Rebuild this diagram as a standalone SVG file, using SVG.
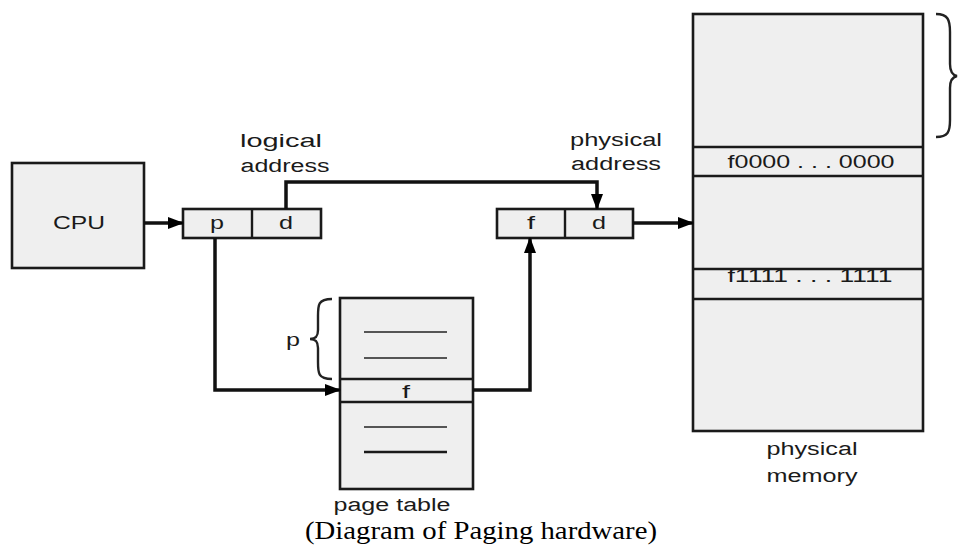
<svg xmlns="http://www.w3.org/2000/svg" width="964" height="557" viewBox="0 0 964 557">
<style>
.box{fill:#efefef;stroke:#1a1a1a;stroke-width:2.6}
.sep{stroke:#1a1a1a;stroke-width:2.4;fill:none}
.thin{stroke:#555;stroke-width:2.2;fill:none}
.wire{stroke:#111;stroke-width:3.5;fill:none}
.brace{stroke:#222;stroke-width:2.4;fill:none}
.t{font-family:"Liberation Sans",Arial,sans-serif;font-size:18px;fill:#1a1a1a}
.cap{font-family:"Liberation Serif","DejaVu Serif",serif;font-size:26px;fill:#000}
</style>
<defs>
<marker id="ah" viewBox="0 0 16 12" refX="15" refY="6" markerWidth="16" markerHeight="12" markerUnits="userSpaceOnUse" orient="auto">
<path d="M0,0 L16,6 L0,12 Z" fill="#000"/>
</marker>
</defs>
<rect width="964" height="557" fill="#fff"/>

<g id="cpu">
<rect class="box" x="12" y="163" width="132" height="105"/>
<text class="t" x="79" y="229" text-anchor="middle" textLength="52" lengthAdjust="spacingAndGlyphs">CPU</text>
</g>

<g id="logical-address">
<rect class="box" x="183" y="209" width="138" height="29"/>
<line class="sep" x1="252" y1="209" x2="252" y2="238"/>
<text class="t" x="217" y="229" text-anchor="middle" textLength="14" lengthAdjust="spacingAndGlyphs">p</text>
<text class="t" x="286" y="229" text-anchor="middle" textLength="14" lengthAdjust="spacingAndGlyphs">d</text>
<text class="t" x="281" y="147" text-anchor="middle" textLength="82" lengthAdjust="spacingAndGlyphs">logical</text>
<text class="t" x="285" y="172" text-anchor="middle" textLength="89" lengthAdjust="spacingAndGlyphs">address</text>
</g>

<g id="physical-address">
<rect class="box" x="497" y="209" width="136" height="29"/>
<line class="sep" x1="565" y1="209" x2="565" y2="238"/>
<text class="t" x="531" y="229" text-anchor="middle" textLength="8" lengthAdjust="spacingAndGlyphs">f</text>
<text class="t" x="599" y="229" text-anchor="middle" textLength="14" lengthAdjust="spacingAndGlyphs">d</text>
<text class="t" x="616" y="146" text-anchor="middle" textLength="92" lengthAdjust="spacingAndGlyphs">physical</text>
<text class="t" x="616" y="170" text-anchor="middle" textLength="90" lengthAdjust="spacingAndGlyphs">address</text>
</g>

<g id="page-table">
<rect class="box" x="340" y="298" width="133" height="191"/>
<line class="sep" x1="340" y1="379" x2="473" y2="379"/>
<line class="sep" x1="340" y1="402" x2="473" y2="402"/>
<line class="thin" x1="364" y1="332" x2="447" y2="332"/>
<line class="thin" x1="364" y1="358" x2="447" y2="358"/>
<line class="thin" x1="364" y1="427" x2="447" y2="427"/>
<line class="sep" x1="364" y1="452" x2="447" y2="452" stroke-width="2.8"/>
<text class="t" x="406" y="398" text-anchor="middle" textLength="8" lengthAdjust="spacingAndGlyphs">f</text>
<path class="brace" d="M332,299 C318,299 318,305 318,316 L318,330 C318,336 316,339 310,339 C316,339 318,342 318,348 L318,362 C318,373 318,379 332,379"/>
<text class="t" x="293" y="346" text-anchor="middle" textLength="14" lengthAdjust="spacingAndGlyphs">p</text>
<text class="t" x="392" y="511" text-anchor="middle" textLength="117" lengthAdjust="spacingAndGlyphs">page table</text>
</g>

<g id="physical-memory">
<rect class="box" x="693" y="14" width="230" height="417" stroke-width="3"/>
<line class="sep" x1="693" y1="147" x2="923" y2="147"/>
<line class="sep" x1="693" y1="176" x2="923" y2="176"/>
<line class="sep" x1="693" y1="269" x2="923" y2="269"/>
<line class="sep" x1="693" y1="299" x2="923" y2="299" stroke-width="2.8"/>
<text class="t" x="811" y="168" text-anchor="middle" textLength="167" lengthAdjust="spacingAndGlyphs">f0000 . . . 0000</text>
<text class="t" x="810" y="282" text-anchor="middle" textLength="165" lengthAdjust="spacingAndGlyphs">f1111 . . . 1111</text>
<path class="brace" d="M936,14 C948,14 950,20 950,32 L950,64 C950,71 952,75 957,76 C952,77 950,81 950,88 L950,120 C950,132 948,137 936,137"/>
<text class="t" x="812" y="455" text-anchor="middle" textLength="91" lengthAdjust="spacingAndGlyphs">physical</text>
<text class="t" x="812" y="482" text-anchor="middle" textLength="91" lengthAdjust="spacingAndGlyphs">memory</text>
</g>

<g id="connectors">
<line class="wire" x1="144" y1="223" x2="183" y2="223" marker-end="url(#ah)"/>
<path class="wire" d="M286,209 L286,182 L597,182 L597,209" marker-end="url(#ah)"/>
<path class="wire" d="M215,238 L215,390 L340,390" marker-end="url(#ah)"/>
<path class="wire" d="M473,390 L530,390 L530,238" marker-end="url(#ah)"/>
<line class="wire" x1="633" y1="223" x2="693" y2="223" marker-end="url(#ah)"/>
</g>

<text class="cap" x="481" y="539" text-anchor="middle" textLength="352" lengthAdjust="spacingAndGlyphs">(Diagram of Paging hardware)</text>
</svg>
